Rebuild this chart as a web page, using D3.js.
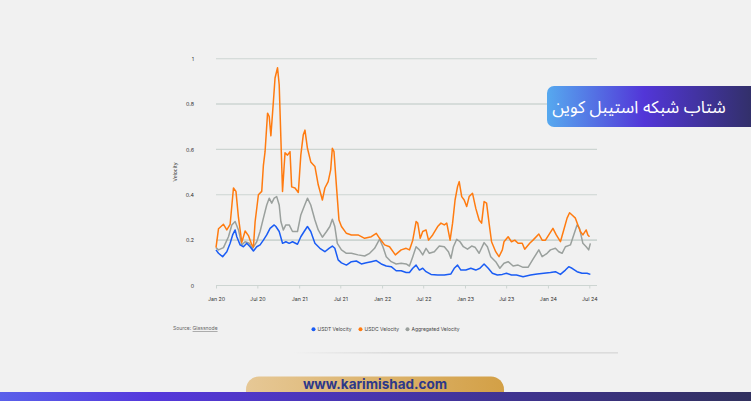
<!DOCTYPE html>
<html><head><meta charset="utf-8">
<script src="https://cdn.jsdelivr.net/npm/d3@7"></script>
<style>
html,body{margin:0;padding:0;background:#f1f1f1;}
svg{display:block;}
</style></head>
<body>
<svg id="c" width="751" height="401"></svg>
<script>
// ---- data (decimal year, velocity) ----
const usdcVelocity = [[2020.00,0.167],[2020.03,0.25],[2020.09,0.27],[2020.13,0.245],[2020.17,0.27],[2020.21,0.43],[2020.24,0.415],[2020.27,0.30],[2020.31,0.19],[2020.35,0.24],[2020.39,0.22],[2020.43,0.18],[2020.45,0.17],[2020.47,0.28],[2020.51,0.40],[2020.55,0.415],[2020.57,0.53],[2020.59,0.59],[2020.62,0.76],[2020.64,0.745],[2020.66,0.66],[2020.69,0.81],[2020.71,0.915],[2020.74,0.96],[2020.76,0.885],[2020.78,0.65],[2020.80,0.415],[2020.83,0.585],[2020.86,0.575],[2020.89,0.59],[2020.91,0.435],[2020.95,0.43],[2020.99,0.41],[2021.02,0.575],[2021.05,0.665],[2021.07,0.685],[2021.10,0.605],[2021.14,0.545],[2021.19,0.525],[2021.23,0.444],[2021.28,0.377],[2021.31,0.43],[2021.35,0.458],[2021.38,0.51],[2021.40,0.605],[2021.42,0.59],[2021.45,0.436],[2021.48,0.289],[2021.51,0.26],[2021.57,0.23],[2021.63,0.223],[2021.71,0.223],[2021.79,0.208],[2021.87,0.215],[2021.93,0.23],[2021.97,0.208],[2022.03,0.179],[2022.09,0.171],[2022.16,0.135],[2022.23,0.157],[2022.29,0.164],[2022.33,0.157],[2022.37,0.2],[2022.41,0.282],[2022.43,0.275],[2022.46,0.208],[2022.49,0.238],[2022.53,0.245],[2022.56,0.2],[2022.61,0.223],[2022.67,0.26],[2022.71,0.275],[2022.75,0.267],[2022.78,0.275],[2022.82,0.2],[2022.85,0.275],[2022.88,0.377],[2022.91,0.436],[2022.93,0.458],[2022.96,0.392],[2022.99,0.377],[2023.02,0.348],[2023.05,0.392],[2023.09,0.407],[2023.13,0.34],[2023.17,0.289],[2023.20,0.275],[2023.23,0.37],[2023.26,0.363],[2023.29,0.275],[2023.32,0.193],[2023.37,0.149],[2023.41,0.127],[2023.45,0.157],[2023.47,0.193],[2023.52,0.215],[2023.56,0.193],[2023.60,0.2],[2023.64,0.186],[2023.69,0.186],[2023.72,0.16],[2023.78,0.186],[2023.82,0.2],[2023.89,0.227],[2023.93,0.2],[2023.97,0.2],[2024.01,0.223],[2024.06,0.252],[2024.10,0.223],[2024.15,0.193],[2024.19,0.245],[2024.23,0.297],[2024.26,0.321],[2024.29,0.311],[2024.33,0.297],[2024.36,0.267],[2024.39,0.238],[2024.42,0.223],[2024.46,0.245],[2024.48,0.223],[2024.50,0.215]];

const aggregatedVelocity = [[2020.00,0.167],[2020.03,0.157],[2020.09,0.167],[2020.15,0.215],[2020.19,0.267],[2020.23,0.282],[2020.27,0.245],[2020.31,0.179],[2020.35,0.193],[2020.40,0.186],[2020.44,0.164],[2020.49,0.193],[2020.53,0.238],[2020.57,0.297],[2020.61,0.355],[2020.64,0.385],[2020.67,0.363],[2020.70,0.385],[2020.73,0.392],[2020.76,0.355],[2020.78,0.282],[2020.81,0.245],[2020.84,0.267],[2020.88,0.267],[2020.92,0.238],[2020.98,0.238],[2021.02,0.311],[2021.06,0.348],[2021.10,0.385],[2021.14,0.355],[2021.19,0.289],[2021.23,0.245],[2021.28,0.213],[2021.33,0.238],[2021.37,0.26],[2021.40,0.292],[2021.43,0.26],[2021.46,0.186],[2021.51,0.157],[2021.57,0.142],[2021.63,0.142],[2021.71,0.135],[2021.79,0.13],[2021.85,0.142],[2021.91,0.164],[2021.97,0.204],[2022.01,0.171],[2022.05,0.127],[2022.11,0.105],[2022.17,0.095],[2022.23,0.098],[2022.29,0.095],[2022.33,0.086],[2022.37,0.127],[2022.41,0.171],[2022.45,0.157],[2022.49,0.135],[2022.53,0.164],[2022.57,0.142],[2022.63,0.149],[2022.69,0.174],[2022.75,0.171],[2022.80,0.149],[2022.83,0.12],[2022.86,0.171],[2022.90,0.204],[2022.94,0.193],[2022.98,0.171],[2023.03,0.16],[2023.08,0.174],[2023.12,0.169],[2023.17,0.142],[2023.23,0.189],[2023.27,0.171],[2023.31,0.127],[2023.37,0.105],[2023.42,0.076],[2023.47,0.098],[2023.52,0.105],[2023.58,0.086],[2023.64,0.09],[2023.70,0.08],[2023.76,0.08],[2023.82,0.116],[2023.89,0.157],[2023.93,0.127],[2023.99,0.142],[2024.03,0.157],[2024.09,0.164],[2024.13,0.149],[2024.17,0.142],[2024.21,0.171],[2024.27,0.179],[2024.31,0.223],[2024.35,0.267],[2024.38,0.252],[2024.42,0.186],[2024.46,0.171],[2024.49,0.157],[2024.51,0.186]];

const usdtVelocity = [[2020.00,0.157],[2020.03,0.142],[2020.08,0.127],[2020.13,0.149],[2020.17,0.186],[2020.20,0.223],[2020.23,0.245],[2020.25,0.215],[2020.29,0.179],[2020.33,0.171],[2020.37,0.186],[2020.41,0.171],[2020.45,0.152],[2020.49,0.171],[2020.53,0.179],[2020.57,0.2],[2020.61,0.223],[2020.65,0.252],[2020.70,0.267],[2020.72,0.26],[2020.76,0.238],[2020.80,0.186],[2020.84,0.193],[2020.88,0.186],[2020.92,0.193],[2020.98,0.182],[2021.02,0.215],[2021.06,0.238],[2021.10,0.26],[2021.14,0.238],[2021.19,0.186],[2021.25,0.164],[2021.31,0.149],[2021.36,0.164],[2021.40,0.174],[2021.43,0.164],[2021.47,0.113],[2021.51,0.1],[2021.57,0.09],[2021.63,0.105],[2021.69,0.108],[2021.75,0.095],[2021.81,0.1],[2021.87,0.105],[2021.93,0.11],[2021.99,0.095],[2022.05,0.086],[2022.11,0.083],[2022.17,0.065],[2022.23,0.065],[2022.29,0.057],[2022.33,0.057],[2022.37,0.076],[2022.41,0.09],[2022.45,0.068],[2022.49,0.076],[2022.53,0.061],[2022.59,0.049],[2022.67,0.046],[2022.75,0.046],[2022.83,0.051],[2022.87,0.076],[2022.91,0.09],[2022.95,0.068],[2023.01,0.068],[2023.07,0.076],[2023.13,0.068],[2023.18,0.076],[2023.23,0.095],[2023.28,0.076],[2023.33,0.054],[2023.39,0.046],[2023.45,0.049],[2023.50,0.054],[2023.56,0.046],[2023.62,0.046],[2023.70,0.039],[2023.79,0.046],[2023.87,0.051],[2023.95,0.054],[2024.03,0.057],[2024.09,0.061],[2024.15,0.049],[2024.21,0.068],[2024.25,0.083],[2024.29,0.076],[2024.35,0.061],[2024.41,0.054],[2024.47,0.054],[2024.51,0.049]];

const xTickDates = ["2020-01-01","2020-07-01","2021-01-01","2021-07-01","2022-01-01","2022-07-01","2023-01-01","2023-07-01","2024-01-01","2024-07-01"];
const xTickLabels = ["Jan 20","Jul 20","Jan 21","Jul 21","Jan 22","Jul 22","Jan 23","Jul 23","Jan 24","Jul 24"];
const yTicks = [0,0.2,0.4,0.6,0.8,1];
const seriesNames = ["USDT Velocity","USDC Velocity","Aggregated Velocity"];
const seriesColors = ["#1a5cf4","#ff7b10","#9aa09d"];
const titleText = "شتاب شبکه استیبل کوین";
const siteText = "www.karimishad.com";

// ---- helpers ----
function toDate(t){
  const y = Math.floor(t), f = t - y;
  const a = new Date(y,0,1).getTime(), b = new Date(y+1,0,1).getTime();
  return new Date(a + f*(b-a));
}
const parse = d3.timeParse("%Y-%m-%d");

const svg = d3.select("#c");
const defs = svg.append("defs");

// scales
const x = d3.scaleTime().domain([parse("2020-01-01"), parse("2024-07-01")]).range([216, 589.3]);
const y = d3.scaleLinear().domain([0,1]).range([285.5, 58.7]);
const gridLeft = 216, gridRight = 597;

// grid
svg.append("g").selectAll("line").data(yTicks.filter(d=>d>0)).join("line")
  .attr("x1",gridLeft).attr("x2",gridRight)
  .attr("y1",d=>y(d)).attr("y2",d=>y(d))
  .attr("stroke","#cdd5d2").attr("stroke-width",d=> (d===0.2||d===0.8)?1.6:1.1);

// x axis
const xAxis = d3.axisBottom(x)
  .tickValues(xTickDates.map(parse))
  .tickFormat((d,i)=>xTickLabels[i])
  .tickSize(3).tickSizeOuter(0).tickPadding(9);
const gx = svg.append("g").attr("transform",`translate(0,${y(0)})`).call(xAxis);
gx.select(".domain").attr("d",`M${gridLeft},0H${gridRight}`).attr("stroke","#cdd5d2").attr("stroke-width",1.1);
gx.selectAll(".tick line").attr("stroke","#cdd5d2");
gx.selectAll("text").attr("font-family","Inter, 'DejaVu Sans', sans-serif").attr("font-size",5.3).attr("fill","#333");

// y axis labels
const yAxis = d3.axisLeft(y).tickValues(yTicks).tickFormat(d3.format("~g")).tickSize(0).tickPadding(0);
const gy = svg.append("g").attr("transform","translate(194,0)").call(yAxis);
gy.select(".domain").remove();
gy.selectAll("text").attr("font-family","Inter, 'DejaVu Sans', sans-serif").attr("font-size",5.3).attr("fill","#333").attr("dy","0.32em");

svg.append("text").attr("transform","translate(177,172) rotate(-90)")
  .attr("text-anchor","middle").attr("font-family","Inter, 'DejaVu Sans', sans-serif")
  .attr("font-size",5).attr("fill","#444").text("Velocity");

// lines
const line = d3.line().x(d=>x(toDate(d[0]))).y(d=>y(d[1])).curve(d3.curveLinear);
const seriesData = [aggregatedVelocity, usdcVelocity, usdtVelocity];
const drawColors = [seriesColors[2], seriesColors[1], seriesColors[0]];
svg.append("g").selectAll("path").data(seriesData).join("path")
  .attr("d",line).attr("fill","none")
  .attr("stroke",(d,i)=>drawColors[i]).attr("stroke-width",1.5)
  .attr("stroke-linejoin","round");

// source
const src = svg.append("text").attr("x",173).attr("y",330)
  .attr("font-family","Inter, 'DejaVu Sans', sans-serif").attr("font-size",5).attr("fill","#666");
src.append("tspan").text("Source: ");
src.append("tspan").attr("text-decoration","underline").text("Glassnode");

// legend
const legendX = [313.5, 360.5, 407.5];
const lg = svg.append("g").selectAll("g").data(seriesNames).join("g")
  .attr("transform",(d,i)=>`translate(${legendX[i]},329.3)`);
lg.append("circle").attr("r",2).attr("fill",(d,i)=>seriesColors[i]);
lg.append("text").attr("x",4).attr("dy","0.35em")
  .attr("font-family","Inter, 'DejaVu Sans', sans-serif").attr("font-size",5).attr("fill","#444")
  .text(d=>d);

// faint divider
const lgd = defs.append("linearGradient").attr("id","divg");
lgd.append("stop").attr("offset","0").attr("stop-color","#dcdcdc").attr("stop-opacity",0);
lgd.append("stop").attr("offset","0.3").attr("stop-color","#dcdcdc").attr("stop-opacity",1);
lgd.append("stop").attr("offset","1").attr("stop-color","#dcdcdc").attr("stop-opacity",1);
svg.append("rect").attr("x",293).attr("y",352).attr("width",325).attr("height",1.6).attr("fill","url(#divg)");

// title badge
const tg = defs.append("linearGradient").attr("id","tg");
tg.append("stop").attr("offset","0").attr("stop-color","#56a9ef");
tg.append("stop").attr("offset","0.45").attr("stop-color","#5236d8");
tg.append("stop").attr("offset","1").attr("stop-color","#2f2f5f");
svg.append("rect").attr("x",547).attr("y",86).attr("width",215).attr("height",41).attr("rx",7).attr("fill","url(#tg)");
svg.append("text").attr("x",639).attr("y",112.5).attr("text-anchor","middle")
  .attr("font-family","'Noto Sans Arabic','DejaVu Sans',sans-serif").attr("font-size",17.2).attr("fill","#fff")
  .attr("direction","rtl").text(titleText);

// bottom tab
const gg = defs.append("linearGradient").attr("id","gg");
gg.append("stop").attr("offset","0").attr("stop-color","#e6c896");
gg.append("stop").attr("offset","1").attr("stop-color","#d3a046");
svg.append("rect").attr("x",246).attr("y",376.5).attr("width",258).attr("height",30).attr("rx",13).attr("fill","url(#gg)");
svg.append("text").attr("x",375).attr("y",389).attr("text-anchor","middle")
  .attr("font-family","Inter, 'DejaVu Sans', sans-serif").attr("font-weight",700).attr("font-size",13.5).attr("fill","#2d3889")
  .text(siteText);

// bottom bar
const bg = defs.append("linearGradient").attr("id","bg");
bg.append("stop").attr("offset","0").attr("stop-color","#5a60ea");
bg.append("stop").attr("offset","0.2").attr("stop-color","#5538dc");
bg.append("stop").attr("offset","1").attr("stop-color","#31305e");
svg.append("rect").attr("x",0).attr("y",392).attr("width",751).attr("height",9).attr("fill","url(#bg)");
</script>
</body></html>
